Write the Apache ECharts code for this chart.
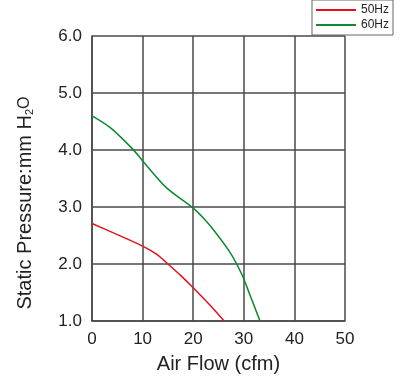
<!DOCTYPE html>
<html>
<head>
<meta charset="utf-8">
<script src="https://cdn.jsdelivr.net/npm/echarts@6/dist/echarts.min.js"></script>
<style>html,body{margin:0;padding:0;background:#fff}#c{width:400px;height:379px}</style>
</head>
<body>
<div id="c"></div>
<script>
const seriesNames = ['50Hz', '60Hz'];
const flow50 = [0, 4.9, 10.1, 12.8, 15.4, 17.4, 19.7, 23.3, 26.1];
const pressure50 = [2.71, 2.52, 2.31, 2.17, 1.97, 1.81, 1.61, 1.28, 1.0];
const flow60 = [0, 3.5, 8.0, 10.1, 14.7, 20.0, 22.5, 24.0, 27.3, 29.6, 31.2, 33.2];
const pressure60 = [4.60, 4.40, 4.02, 3.80, 3.34, 2.98, 2.76, 2.60, 2.20, 1.82, 1.46, 1.0];
const xTicks = [0, 10, 20, 30, 40, 50];
const yTicks = [1, 2, 3, 4, 5, 6];

const pairs = (xs, ys) => xs.map((x, i) => [x, ys[i]]);
const chart = echarts.init(document.getElementById('c'));
const gridColor = '#4a4a4a';
chart.setOption({
  animation: false,
  textStyle: { fontFamily: 'Liberation Sans, Arial, sans-serif' },
  grid: { left: 92, right: 55, top: 36, bottom: 57 },
  legend: {
    data: seriesNames,
    orient: 'vertical',
    left: 312, top: 0,
    icon: 'rect', itemWidth: 40, itemHeight: 2, itemGap: 3,
    padding: [4, 4, 4, 4],
    borderColor: '#666', borderWidth: 1,
    textStyle: { fontSize: 12, color: '#222' }
  },
  xAxis: {
    type: 'value', min: xTicks[0], max: xTicks[xTicks.length - 1], interval: 10,
    name: 'Air Flow (cfm)', nameLocation: 'middle', nameGap: 33,
    nameTextStyle: { fontSize: 20, color: '#222' },
    axisLine: { lineStyle: { color: gridColor, width: 1.5 } },
    axisTick: { show: false },
    axisLabel: { fontSize: 17, color: '#222', margin: 10 },
    splitLine: { show: true, lineStyle: { color: gridColor, width: 1.5 } }
  },
  yAxis: {
    type: 'value', min: yTicks[0], max: yTicks[yTicks.length - 1], interval: 1,
    axisLine: { show: true, lineStyle: { color: gridColor, width: 1.5 } },
    axisTick: { show: false },
    axisLabel: { fontSize: 17, color: '#222', margin: 10, formatter: v => v.toFixed(1) },
    splitLine: { show: true, lineStyle: { color: gridColor, width: 1.5 } }
  },
  graphic: [{
    type: 'text', x: 25, y: 203, rotation: Math.PI / 2,
    style: {
      text: 'Static Pressure:mm H{s|2}{o|O}',
      fontSize: 20, fill: '#222', align: 'center', verticalAlign: 'middle',
      fontFamily: 'Liberation Sans, Arial, sans-serif',
      rich: {
        s: { fontSize: 11, verticalAlign: 'bottom', padding: [8, 0, 0, 0], fill: '#222' },
        o: { fontSize: 16, fill: '#222' }
      }
    }
  }],
  series: [
    { name: seriesNames[0], type: 'line', smooth: 0.3, showSymbol: false, data: pairs(flow50, pressure50),
      lineStyle: { color: '#e3121a', width: 1.5 }, itemStyle: { color: '#e3121a' } },
    { name: seriesNames[1], type: 'line', smooth: 0.3, showSymbol: false, data: pairs(flow60, pressure60),
      lineStyle: { color: '#0b8a30', width: 1.5 }, itemStyle: { color: '#0b8a30' } }
  ]
});
</script>
</body>
</html>
